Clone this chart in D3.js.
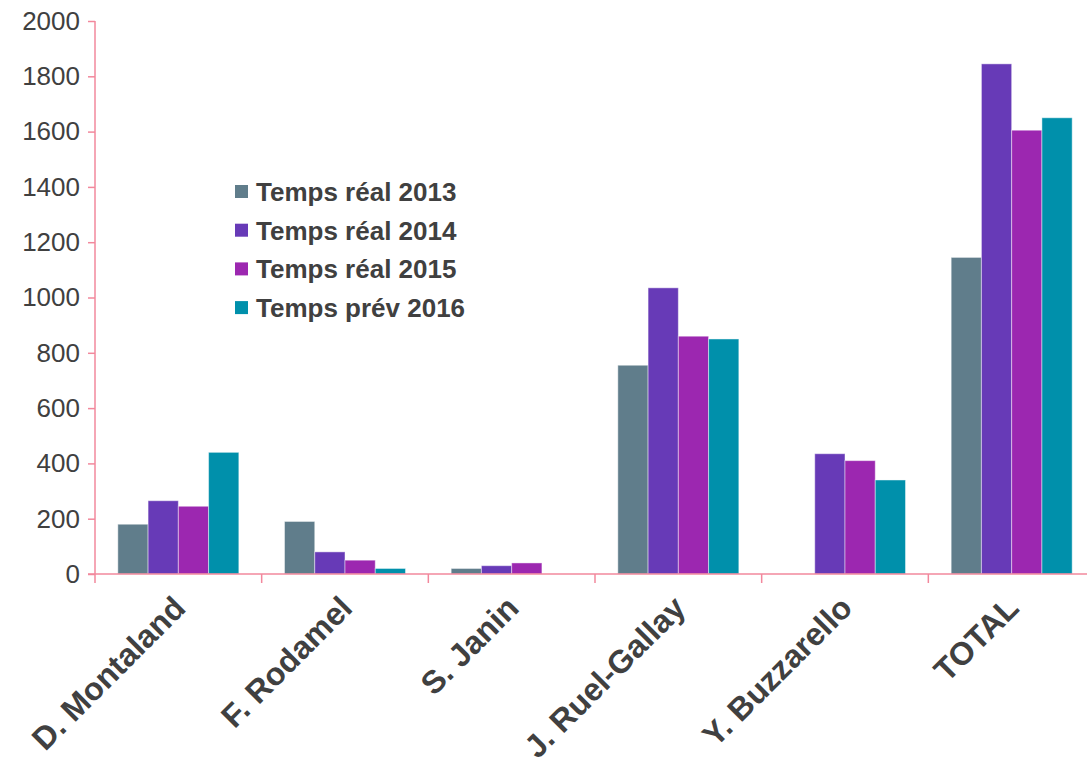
<!DOCTYPE html>
<html>
<head>
<meta charset="utf-8">
<script src="https://cdn.jsdelivr.net/npm/d3@7"></script>
<style>
  body { margin: 0; background: #fff; }
  svg { display: block; font-family: "Liberation Sans", Arial, sans-serif; }
</style>
</head>
<body>
<div id="chart"></div>
<script>
// categories and series
const categories = ["D. Montaland", "F. Rodamel", "S. Janin", "J. Ruel-Gallay", "Y. Buzzarello", "TOTAL"];
const seriesNames = ["Temps réal 2013", "Temps réal 2014", "Temps réal 2015", "Temps prév 2016"];
const seriesColors = ["#607D8B", "#673AB7", "#9C27B0", "#0090AB"];

const values2013 = [180, 190, 20, 755, 0, 1145];
const values2014 = [265, 80, 30, 1035, 435, 1845];
const values2015 = [245, 50, 40, 860, 410, 1605];
const values2016 = [440, 20, 0, 850, 340, 1650];
const yTicks = [0, 200, 400, 600, 800, 1000, 1200, 1400, 1600, 1800, 2000];

const allValues = [values2013, values2014, values2015, values2016];

const width = 1087, height = 762;
const margin = { top: 21, left: 95, bottom: 188 };
const plotRight = 1095;
const axisColor = "#F2889C";
const textColor = "#404040";

const svg = d3.select("#chart")
  .append("svg")
  .attr("width", width)
  .attr("height", height);

// scales
const x0 = d3.scaleBand()
  .domain(categories)
  .range([margin.left, plotRight])
  .padding(0);

const groupWidth = x0.bandwidth() * 0.726;
const x1 = d3.scaleBand()
  .domain(seriesNames)
  .range([0, groupWidth])
  .padding(0);

const y = d3.scaleLinear()
  .domain([0, 2000])
  .range([height - margin.bottom, margin.top]);

// bars
const rows = categories.map((c, i) => ({
  cat: c,
  vals: seriesNames.map((s, j) => ({ series: s, color: seriesColors[j], value: allValues[j][i] }))
}));

const groups = svg.append("g")
  .selectAll("g")
  .data(rows)
  .join("g")
  .attr("transform", d => `translate(${x0(d.cat) + (x0.bandwidth() - groupWidth) / 2},0)`);

groups.selectAll("rect")
  .data(d => d.vals.filter(v => v.value > 0))
  .join("rect")
  .attr("x", d => x1(d.series))
  .attr("width", x1.bandwidth())
  .attr("y", d => y(d.value))
  .attr("height", d => y(0) - y(d.value))
  .attr("fill", d => d.color)
  .attr("stroke", "rgba(255,255,255,0.45)")
  .attr("stroke-width", 1);

// y axis
const yAxis = svg.append("g")
  .attr("transform", `translate(${margin.left},0)`)
  .call(d3.axisLeft(y).tickValues(yTicks).tickFormat(d3.format("d"))
    .tickSize(7).tickPadding(8).tickSizeOuter(0));

yAxis.select(".domain").remove();
yAxis.selectAll(".tick line").attr("stroke", axisColor).attr("stroke-width", 1.5);
yAxis.selectAll(".tick text")
  .attr("fill", textColor)
  .style("font-size", "26px")
  .style("font-family", "'Liberation Sans', Arial, sans-serif");

svg.append("line")
  .attr("x1", margin.left).attr("x2", margin.left)
  .attr("y1", y(2000)).attr("y2", y(0) + 9)
  .attr("stroke", axisColor).attr("stroke-width", 1.5);

// x axis line
svg.append("line")
  .attr("x1", margin.left - 7).attr("x2", plotRight)
  .attr("y1", y(0)).attr("y2", y(0))
  .attr("stroke", axisColor).attr("stroke-width", 1.5);

// category separator ticks
svg.append("g")
  .selectAll("line")
  .data(categories.slice(1))
  .join("line")
  .attr("x1", d => x0(d)).attr("x2", d => x0(d))
  .attr("y1", y(0)).attr("y2", y(0) + 9)
  .attr("stroke", axisColor).attr("stroke-width", 1.5);

// category labels, rotated
svg.append("g")
  .selectAll("text")
  .data(categories)
  .join("text")
  .attr("transform", d => `translate(${x0(d) + x0.bandwidth() / 2 + 9},610) rotate(-45)`)
  .attr("text-anchor", "end")
  .attr("fill", textColor)
  .style("font-size", "32px")
  .style("font-weight", "bold")
  .text(d => d);

// legend
const legend = svg.append("g")
  .attr("transform", "translate(235,185)");

const legendItems = legend.selectAll("g")
  .data(seriesNames)
  .join("g")
  .attr("transform", (d, i) => `translate(0,${i * 38.7})`);

legendItems.append("rect")
  .attr("width", 13)
  .attr("height", 13)
  .attr("fill", (d, i) => seriesColors[i]);

legendItems.append("text")
  .attr("x", 21)
  .attr("y", 6.5)
  .attr("dy", "0.36em")
  .attr("fill", textColor)
  .style("font-size", "26px")
  .style("font-weight", "bold")
  .text(d => d);
</script>
</body>
</html>
